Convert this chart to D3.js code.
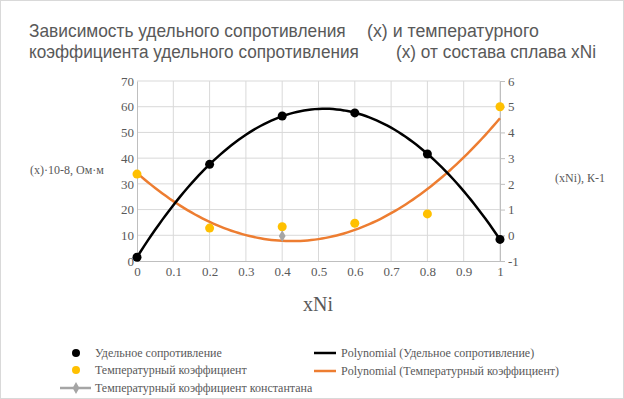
<!DOCTYPE html>
<html>
<head>
<meta charset="UTF-8">
<script src="https://d3js.org/d3.v7.min.js"></script>
<style>
  body { margin: 0; background: #fff; }
  text { fill: #595959; font-family: "Liberation Serif", serif; }
</style>
</head>
<body>
<svg width="624" height="399"></svg>
<script>
// данные
var xNi = [0, 0.2, 0.4, 0.6, 0.8, 1];
var resist = [1.44, 37.6, 56.4, 57.6, 41.6, 8.4];      // левая ось
var tempCoef = [2.38, 0.28, 0.33, 0.47, 0.83, 5.0];    // правая ось
var constX = [0.4];
var constVal = [-0.03];
var xTicks = [0, 0.1, 0.2, 0.3, 0.4, 0.5, 0.6, 0.7, 0.8, 0.9, 1];
var leftTicks = [0, 10, 20, 30, 40, 50, 60, 70];
var rightTicks = [-1, 0, 1, 2, 3, 4, 5, 6];

var svg = d3.select("svg");
svg.append("rect").attr("x", 0.5).attr("y", 0.5).attr("width", 623).attr("height", 398)
    .attr("fill", "#fff").attr("stroke", "#d9d9d9");

var x = d3.scaleLinear().domain([0, 1]).range([137, 500]);
var yL = d3.scaleLinear().domain([0, 70]).range([261, 81]);
var yR = d3.scaleLinear().domain([-1, 6]).range([261, 81]);

// сетка
svg.append("g").selectAll("line").data(xTicks.slice(1)).enter().append("line")
    .attr("x1", d => x(d)).attr("x2", d => x(d)).attr("y1", yL(0)).attr("y2", yL(70))
    .attr("stroke", "#d9d9d9");
svg.append("g").selectAll("line").data(leftTicks.slice(1)).enter().append("line")
    .attr("x1", x(0)).attr("x2", x(1)).attr("y1", d => yL(d)).attr("y2", d => yL(d))
    .attr("stroke", "#d9d9d9");

// оси
var ax = svg.append("g").attr("transform", "translate(0," + yL(0) + ")")
    .call(d3.axisBottom(x).tickValues(xTicks).tickSize(0).tickPadding(6).tickFormat(d => d));
var ayl = svg.append("g").attr("transform", "translate(" + x(0) + ",0)")
    .call(d3.axisLeft(yL).tickValues(leftTicks).tickSize(0).tickPadding(3).tickFormat(d => d));
var ayr = svg.append("g").attr("transform", "translate(" + x(1) + ",0)")
    .call(d3.axisRight(yR).tickValues(rightTicks).tickSize(5).tickPadding(3).tickFormat(d => d));
[ax, ayl, ayr].forEach(function(g) {
    g.attr("font-family", null);
    g.select(".domain").attr("stroke", "#bfbfbf");
    g.selectAll(".tick line").attr("stroke", "#bfbfbf");
    g.selectAll("text").style("fill", "#595959").style("font-size", "13px")
        .style("font-family", "'Liberation Serif', serif");
});

// полиномиальный тренд (2-й степени, МНК)
function polyfit2(xs, ys) {
    var n = xs.length, s = [0, 0, 0, 0, 0], t = [0, 0, 0];
    for (var i = 0; i < n; i++) {
        for (var k = 0; k < 5; k++) s[k] += Math.pow(xs[i], k);
        for (var k = 0; k < 3; k++) t[k] += ys[i] * Math.pow(xs[i], k);
    }
    var A = [[s[0], s[1], s[2], t[0]], [s[1], s[2], s[3], t[1]], [s[2], s[3], s[4], t[2]]];
    for (var c = 0; c < 3; c++) {
        for (var r = c + 1; r < 3; r++) {
            var f = A[r][c] / A[c][c];
            for (var k = c; k < 4; k++) A[r][k] -= f * A[c][k];
        }
    }
    var b = [0, 0, 0];
    for (var r = 2; r >= 0; r--) {
        var v = A[r][3];
        for (var k = r + 1; k < 3; k++) v -= A[r][k] * b[k];
        b[r] = v / A[r][r];
    }
    return function(v) { return b[0] + b[1] * v + b[2] * v * v; };
}
var fr = polyfit2(xNi, resist), ft = polyfit2(xNi, tempCoef);
var samples = d3.range(0, 1.0001, 0.01);

svg.append("path").datum(samples)
    .attr("d", d3.line().x(d => x(d)).y(d => yR(ft(d))))
    .attr("fill", "none").attr("stroke", "#ed7d31").attr("stroke-width", 2.5);
svg.append("path").datum(samples)
    .attr("d", d3.line().x(d => x(d)).y(d => yL(fr(d))))
    .attr("fill", "none").attr("stroke", "#000").attr("stroke-width", 2.5);

// точки
svg.append("g").selectAll("circle").data(xNi).enter().append("circle")
    .attr("cx", d => x(d)).attr("cy", (d, i) => yR(tempCoef[i])).attr("r", 4.5)
    .attr("fill", "#ffc000");
svg.append("g").selectAll("circle").data(xNi).enter().append("circle")
    .attr("cx", d => x(d)).attr("cy", (d, i) => yL(resist[i])).attr("r", 4.5)
    .attr("fill", "#000");
var diamond = d3.symbol().type(d3.symbolDiamond).size(40);
svg.append("g").selectAll("path").data(constX).enter().append("path")
    .attr("d", diamond)
    .attr("transform", (d, i) => "translate(" + x(d) + "," + yR(constVal[i]) + ")")
    .attr("fill", "#a5a5a5");

// заголовок (узкий шрифт — сжимаем по ширине)
function titlePart(xp, yp, w, s) {
    var t = svg.append("text").attr("x", 0).attr("y", 0)
        .style("font-family", "'Liberation Sans', sans-serif").style("font-size", "18px")
        .text(s);
    var k = w / t.node().getComputedTextLength();
    t.attr("transform", "translate(" + xp + "," + yp + ") scale(" + k + ",1)");
}
titlePart(29, 37, 317, "Зависимость удельного сопротивления");
titlePart(367, 37, 172, "(x) и температурного");
titlePart(29, 58, 330, "коэффициента удельного сопротивления");
titlePart(396, 58, 200, "(x) от состава сплава xNi");

// подписи осей
svg.append("text").attr("x", 30).attr("y", 174).attr("font-size", "12px")
    .text("(x)·10-8, Ом·м");
svg.append("text").attr("x", 555).attr("y", 182).attr("font-size", "12px")
    .text("(xNi), К-1");
svg.append("text").attr("x", 318).attr("y", 311).attr("text-anchor", "middle")
    .attr("font-size", "20px").text("xNi");

// легенда
var lg = svg.append("g").attr("font-size", "12px");
lg.append("circle").attr("cx", 76).attr("cy", 353).attr("r", 4).attr("fill", "#000");
lg.append("text").attr("x", 95).attr("y", 357).text("Удельное сопротивление");
lg.append("circle").attr("cx", 76).attr("cy", 370).attr("r", 4).attr("fill", "#ffc000");
lg.append("text").attr("x", 95).attr("y", 374).text("Температурный коэффициент");
lg.append("line").attr("x1", 60).attr("x2", 91).attr("y1", 388).attr("y2", 388)
    .attr("stroke", "#a5a5a5").attr("stroke-width", 2.5);
lg.append("path").attr("d", diamond).attr("transform", "translate(76,388)").attr("fill", "#a5a5a5");
lg.append("text").attr("x", 95).attr("y", 392).text("Температурный коэффициент константана");
lg.append("line").attr("x1", 314).attr("x2", 336).attr("y1", 353).attr("y2", 353)
    .attr("stroke", "#000").attr("stroke-width", 2.5);
lg.append("text").attr("x", 341).attr("y", 357).text("Polynomial (Удельное сопротивление)");
lg.append("line").attr("x1", 314).attr("x2", 336).attr("y1", 371).attr("y2", 371)
    .attr("stroke", "#ed7d31").attr("stroke-width", 2.5);
lg.append("text").attr("x", 341).attr("y", 375).text("Polynomial (Температурный коэффициент)");
</script>
</body>
</html>
